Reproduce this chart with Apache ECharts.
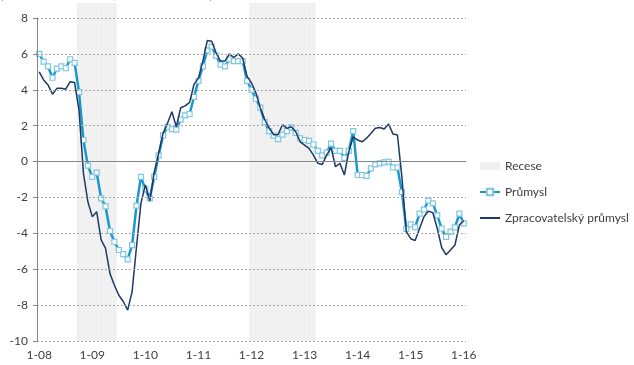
<!DOCTYPE html>
<html>
<head>
<meta charset="utf-8">
<script src="https://cdn.jsdelivr.net/npm/echarts@6/dist/echarts.min.js"></script>
<style>html,body{margin:0;padding:0;background:#fff;}#c{width:634px;height:365px;}</style>
</head>
<body>
<div id="c"></div>
<script>
// Monthly categories Jan 2008 .. Jan 2016
const startYear = 2008, monthsCount = 97;
const categories = [];
for (let i = 0; i < monthsCount; i++) {
  const m = (i % 12) + 1, y = startYear + Math.floor(i / 12);
  categories.push(m + '-' + String(y % 100).padStart(2, '0'));
}
const yTicks = { min: -10, max: 8, interval: 2 };

// Recession periods (first and last month)
const recessions = [['10-08', '6-09'], ['1-12', '3-13']];

const prumysl = [
  6.0, 5.57, 5.3, 4.67, 5.18, 5.3, 5.2, 5.7, 5.5, 3.87, 1.2, -0.23,
  -0.85, -0.62, -2.05, -2.5, -3.87, -4.47, -4.93, -5.16, -5.45, -4.66, -2.46, -0.85,
  -1.55, -2.05, -0.85, 0.34, 1.46, 1.94, 1.81, 1.78, 2.35, 2.57, 2.65, 3.6,
  4.5, 5.3, 6.2, 6.4, 5.9, 5.4, 5.3, 5.7, 5.6, 5.6, 5.6, 4.5,
  4.0, 3.5, 3.0, 2.2, 1.7, 1.45, 1.25, 1.5, 1.7, 1.9, 1.6, 1.3,
  1.2, 1.15, 0.95, 0.6, 0.35, 0.5, 1.0, 0.6, 0.6, 0.2, 0.6, 1.7,
  -0.75, -0.75, -0.8, -0.38, -0.16, -0.1, -0.05, 0.0, -0.33, -0.33, -1.7, -3.75,
  -3.5, -3.65, -2.9, -2.68, -2.18, -2.33, -3.0, -3.73, -4.2, -3.9, -3.67, -2.9,
  -3.45
];
const zpracovatelsky = [
  5.0, 4.55, 4.27, 3.75, 4.08, 4.08, 4.03, 4.45, 4.4, 2.87, -0.66, -2.24,
  -3.07, -2.8, -4.37, -4.84, -6.24, -6.89, -7.45, -7.8, -8.28, -7.26, -4.75, -2.33,
  -1.3, -2.2, -0.6, 0.45, 1.57, 2.13, 2.78, 1.94, 3.0, 3.1, 3.3, 4.3,
  4.65, 5.6, 6.74, 6.7, 6.05, 5.6, 5.6, 6.0, 5.8, 6.0, 5.77, 4.75,
  4.38, 3.82, 2.98, 2.33, 1.87, 1.5, 1.5, 2.05, 1.85, 1.94, 1.66, 1.1,
  0.92, 0.73, 0.36, -0.1, -0.16, 0.36, 0.77, -0.29, -0.1, -0.75, 0.55, 1.38,
  1.2, 1.1, 1.3, 1.57, 1.85, 1.9, 1.81, 2.09, 1.53, 1.48, -0.85, -3.9,
  -4.3, -4.4, -3.73, -3.08, -2.76, -2.85, -3.73, -4.79, -5.2, -4.93, -4.65, -3.54,
  -3.3
];

const recData = categories.map(() => 0);
recessions.forEach(([a, b]) => {
  const ia = categories.indexOf(a), ib = categories.indexOf(b);
  for (let i = ia; i <= ib; i++) recData[i] = 1;
});

const txt = '#404040', axisCol = '#868686';
const chart = echarts.init(document.getElementById('c'), null, { renderer: 'canvas' });
chart.setOption({
  animation: false,
  textStyle: { fontFamily: 'Lato' },
  title: {
    text: '(meziroční změna v %, sezónně očištěno)',
    left: 0, top: -11, padding: 0,
    textStyle: { fontSize: 12, fontWeight: 'normal', color: txt, fontFamily: 'Lato' }
  },
  legend: {
    orient: 'vertical', left: 474, top: 155,
    itemWidth: 20, itemHeight: 8, itemGap: 14,
    textStyle: { fontSize: 12, color: txt, fontFamily: 'Lato' },
    data: [
      { name: 'Recese', icon: 'rect' },
      { name: 'Průmysl' },
      { name: 'Zpracovatelský průmysl', itemStyle: { opacity: 0 } }
    ]
  },
  grid: [
    { left: 37, right: 168, top: 18, bottom: 24 },
    { left: 37, right: 168, top: 3, bottom: 24 }
  ],
  xAxis: [
    {
      type: 'category', gridIndex: 0, data: categories, position: 'bottom',
      axisLine: { show: false, onZero: false }, axisTick: { show: false },
      axisLabel: { interval: 11, margin: 8, color: txt, fontSize: 12, fontFamily: 'Lato' },
      splitLine: { show: false }
    },
    {
      type: 'category', gridIndex: 0, data: categories, position: 'top', z: 5,
      axisLine: { onZero: true, lineStyle: { color: axisCol, width: 1 } },
      axisTick: { inside: true, interval: 11, length: 4, lineStyle: { color: axisCol } },
      axisLabel: { show: false }, splitLine: { show: false }
    },
    { type: 'category', gridIndex: 1, data: categories, show: false }
  ],
  yAxis: [
    {
      type: 'value', gridIndex: 0, min: yTicks.min, max: yTicks.max, interval: yTicks.interval, z: 5,
      axisLine: { show: true, lineStyle: { color: axisCol } },
      axisTick: { show: true, length: 4, lineStyle: { color: axisCol } },
      axisLabel: { color: txt, fontSize: 12, margin: 9, fontFamily: 'Lato' },
      splitLine: { lineStyle: { type: [2, 2], color: '#a6a6a6', width: 1 } }
    },
    { type: 'value', gridIndex: 1, min: 0, max: 1, show: false }
  ],
  series: [
    {
      name: 'Recese', type: 'bar', xAxisIndex: 2, yAxisIndex: 1, data: recData,
      barCategoryGap: 0, barGap: 0, silent: true,
      itemStyle: { color: '#f0f0f0' }
    },
    {
      name: 'Průmysl', type: 'line', xAxisIndex: 0, yAxisIndex: 0, data: prumysl,
      color: '#1b98cb', symbol: 'rect', symbolSize: 5, showAllSymbol: true,
      lineStyle: { color: '#1b98cb', width: 2.5 },
      itemStyle: { color: '#ffffff', borderColor: '#7cc8e4', borderWidth: 1.2 },
      z: 3
    },
    {
      name: 'Zpracovatelský průmysl', type: 'line', xAxisIndex: 0, yAxisIndex: 0, data: zpracovatelsky,
      color: '#1f3864', symbol: 'none',
      lineStyle: { color: '#1f3864', width: 1.5 },
      z: 4
    }
  ]
});
</script>
</body>
</html>
